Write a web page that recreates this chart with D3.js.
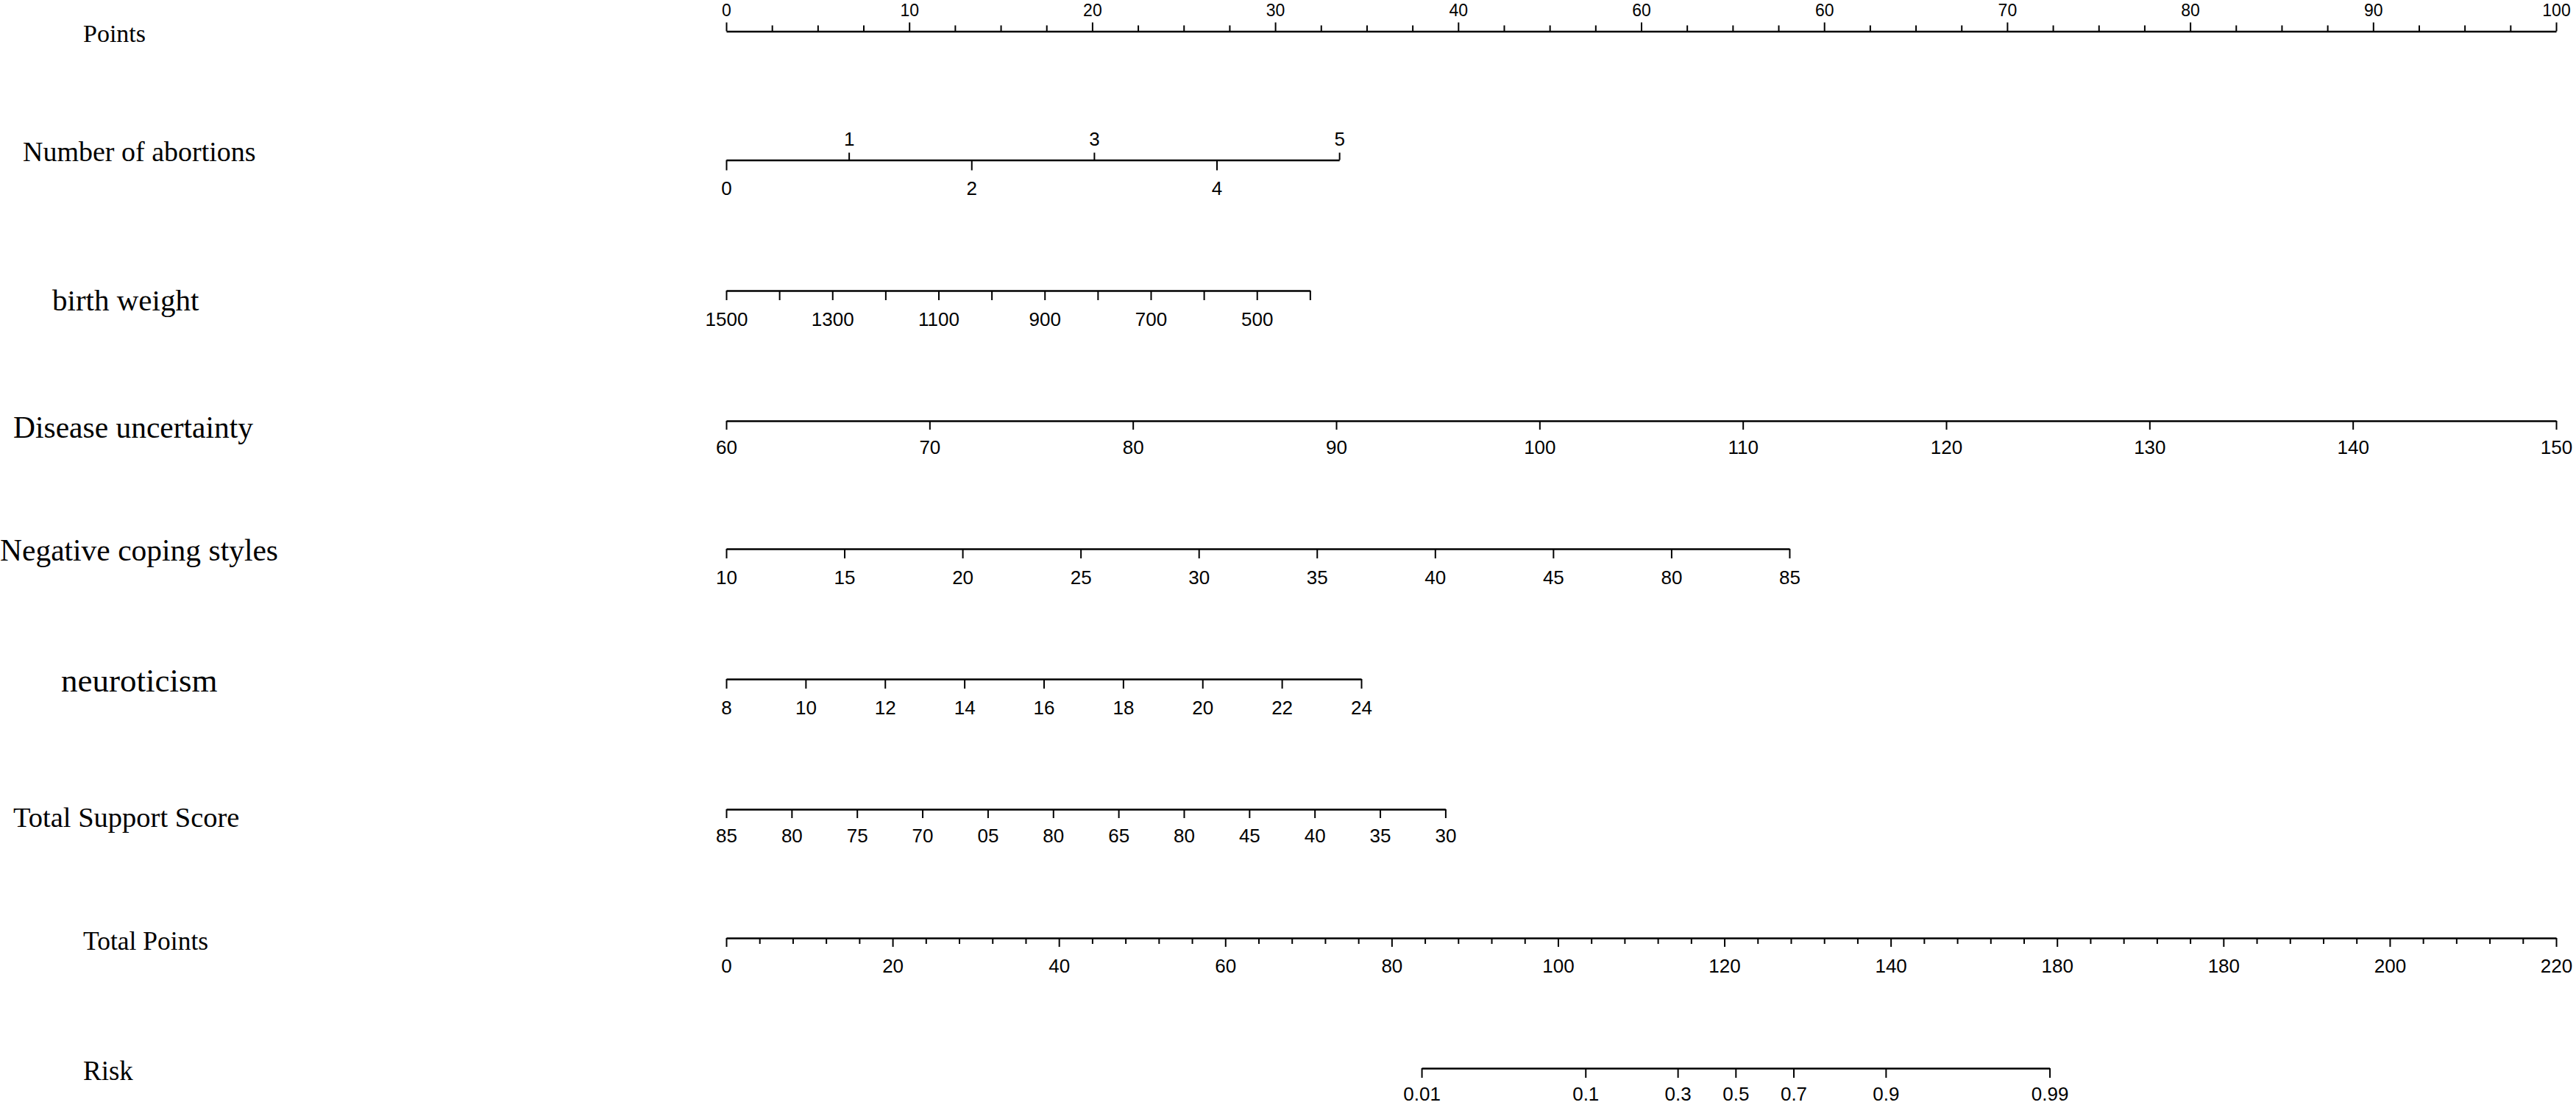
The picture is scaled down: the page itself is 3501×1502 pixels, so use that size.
<!DOCTYPE html>
<html>
<head>
<meta charset="utf-8">
<script src="https://cdn.jsdelivr.net/npm/d3@7"></script>
<style>
  html, body { margin: 0; padding: 0; background: #fff; }
  svg { display: block; }
  .axis path, .axis line { stroke: #000; }
  .axis text { font-family: "Liberation Sans", Arial, sans-serif; fill: #000; }
  .rowlabel { font-family: "Liberation Serif", "Times New Roman", serif; fill: #000; }
</style>
</head>
<body>
<script>
// ---------------- DATA ----------------
const rowLabels = ["Points", "Number of abortions", "birth weight", "Disease uncertainty",
  "Negative coping styles", "neuroticism", "Total Support Score", "Total Points", "Risk"];

const pointsTicks  = [0, 10, 20, 30, 40, 50, 60, 70, 80, 90, 100];
const pointsLabels = ["0", "10", "20", "30", "40", "60", "60", "70", "80", "90", "100"];

const abortionTicksTop    = [1, 3, 5];
const abortionTicksBottom = [0, 2, 4];
const abortionDomain = [0, 5];
const abortionMaxPoints = 33.5;

const birthWeightTicks  = [1500, 1400, 1300, 1200, 1100, 1000, 900, 800, 700, 600, 500, 400];
const birthWeightLabels = ["1500", "", "1300", "", "1100", "", "900", "", "700", "", "500", ""];
const birthWeightDomain = [1500, 400];
const birthWeightMaxPoints = 31.9;

const diseaseTicks  = [60, 70, 80, 90, 100, 110, 120, 130, 140, 150];
const diseaseLabels = ["60", "70", "80", "90", "100", "110", "120", "130", "140", "150"];
const diseaseDomain = [60, 150];
const diseaseMaxPoints = 100;

const copingTicks  = [10, 15, 20, 25, 30, 35, 40, 45, 50, 55];
const copingLabels = ["10", "15", "20", "25", "30", "35", "40", "45", "80", "85"];
const copingDomain = [10, 55];
const copingMaxPoints = 58.1;

const neuroTicks  = [8, 10, 12, 14, 16, 18, 20, 22, 24];
const neuroLabels = ["8", "10", "12", "14", "16", "18", "20", "22", "24"];
const neuroDomain = [8, 24];
const neuroMaxPoints = 34.7;

const supportTicks  = [85, 80, 75, 70, 65, 60, 55, 50, 45, 40, 35, 30];
const supportLabels = ["85", "80", "75", "70", "05", "80", "65", "80", "45", "40", "35", "30"];
const supportDomain = [85, 30];
const supportMaxPoints = 39.3;

const totalTicks  = [0, 20, 40, 60, 80, 100, 120, 140, 160, 180, 200, 220];
const totalLabels = ["0", "20", "40", "60", "80", "100", "120", "140", "180", "180", "200", "220"];
const totalDomain = [0, 220];

const riskTicks  = [0.01, 0.1, 0.3, 0.5, 0.7, 0.9, 0.99];
const riskLabels = ["0.01", "0.1", "0.3", "0.5", "0.7", "0.9", "0.99"];
const riskTotalPointsAt = [83.6, 159.1];   // total points where risk = 0.01 and 0.99

// ---------------- LAYOUT ----------------
const W = 3501, H = 1502;
const X0 = 987, X1 = 3474;
const lineY = [42.5, 217.5, 395, 572, 746, 923, 1100, 1275, 1452];
const labelLayout = [
  {x: 113, y: 57,   size: 34},
  {x: 31,  y: 219,  size: 38},
  {x: 71,  y: 422,  size: 41},
  {x: 18,  y: 595,  size: 41.5},
  {x: 0,   y: 762,  size: 41.5},
  {x: 83,  y: 940,  size: 45},
  {x: 18,  y: 1124, size: 38.5},
  {x: 113, y: 1291, size: 35.5},
  {x: 113, y: 1468, size: 37}
];
const tickFont = 26;

const svg = d3.select("body").append("svg")
  .attr("width", W).attr("height", H)
  .attr("viewBox", `0 0 ${W} ${H}`);
svg.append("rect").attr("width", W).attr("height", H).attr("fill", "#fff");

// row labels
rowLabels.forEach((t, i) => {
  svg.append("text").attr("class", "rowlabel")
    .attr("x", labelLayout[i].x).attr("y", labelLayout[i].y)
    .style("font-size", labelLayout[i].size + "px")
    .text(t);
});

const xPts = d3.scaleLinear().domain([0, 100]).range([X0, X1]);

function styleAxis(g, showDomain = true, fontSize = tickFont) {
  g.attr("class", "axis");
  g.select(".domain").attr("stroke-width", 2.6).attr("fill", "none");
  if (!showDomain) g.select(".domain").remove();
  g.selectAll(".tick line").attr("stroke-width", 2);
  g.selectAll(".tick text").style("font-size", fontSize + "px");
  return g;
}

function drawBottom(scale, ticks, labels, y, size, pad, showDomain = true, fontSize = tickFont) {
  const ax = d3.axisBottom(scale).tickValues(ticks)
    .tickFormat((d, i) => labels[i]).tickSize(size).tickPadding(pad).tickSizeOuter(0);
  const g = svg.append("g").attr("transform", `translate(0,${y})`).call(ax);
  styleAxis(g, showDomain, fontSize);
  return g;
}
function drawTop(scale, ticks, labels, y, size, pad, showDomain = true, fontSize = tickFont) {
  const ax = d3.axisTop(scale).tickValues(ticks)
    .tickFormat((d, i) => labels[i]).tickSize(size).tickPadding(pad).tickSizeOuter(0);
  const g = svg.append("g").attr("transform", `translate(0,${y})`).call(ax);
  styleAxis(g, showDomain, fontSize);
  return g;
}

// Points
const pointsMinor = d3.range(0, 100.001, 2.5).filter(v => v % 10 !== 0);
drawTop(xPts, pointsMinor, pointsMinor.map(() => ""), lineY[0], 8, 0, false);
drawTop(xPts, pointsTicks, pointsLabels, lineY[0], 12, 8.5, true, 23);

// Number of abortions
const abortionScale = d3.scaleLinear().domain(abortionDomain).range([X0, xPts(abortionMaxPoints)]);
drawTop(abortionScale, abortionTicksTop, abortionTicksTop.map(String), lineY[1], 10, 9.5);
drawBottom(abortionScale, abortionTicksBottom, abortionTicksBottom.map(String), lineY[1], 14, 15, false);

// birth weight
const bwScale = d3.scaleLinear().domain(birthWeightDomain).range([X0, xPts(birthWeightMaxPoints)]);
drawBottom(bwScale, birthWeightTicks, birthWeightLabels, lineY[2], 13, 16.5);

// Disease uncertainty
const duScale = d3.scaleLinear().domain(diseaseDomain).range([X0, xPts(diseaseMaxPoints)]);
drawBottom(duScale, diseaseTicks, diseaseLabels, lineY[3], 12, 14.5);

// Negative coping styles
const ncScale = d3.scaleLinear().domain(copingDomain).range([X0, xPts(copingMaxPoints)]);
drawBottom(ncScale, copingTicks, copingLabels, lineY[4], 13, 17);

// neuroticism
const neScale = d3.scaleLinear().domain(neuroDomain).range([X0, xPts(neuroMaxPoints)]);
drawBottom(neScale, neuroTicks, neuroLabels, lineY[5], 13, 16.5);

// Total Support Score
const tsScale = d3.scaleLinear().domain(supportDomain).range([X0, xPts(supportMaxPoints)]);
drawBottom(tsScale, supportTicks, supportLabels, lineY[6], 12, 15);

// Total Points
const tpScale = d3.scaleLinear().domain(totalDomain).range([X0, X1]);
const totalMinor = d3.range(0, 220.001, 4).filter(v => v % 20 !== 0);
drawBottom(tpScale, totalMinor, totalMinor.map(() => ""), lineY[7], 8, 0, false);
drawBottom(tpScale, totalTicks, totalLabels, lineY[7], 12, 17);

// Risk (logit scale aligned with total points)
const logit = p => Math.log(p / (1 - p));
const riskScale = d3.scaleLinear()
  .domain([logit(riskTicks[0]), logit(riskTicks[riskTicks.length - 1])])
  .range([tpScale(riskTotalPointsAt[0]), tpScale(riskTotalPointsAt[1])]);
drawBottom(riskScale, riskTicks.map(logit), riskLabels, lineY[8], 13, 12.5);
</script>
</body>
</html>
